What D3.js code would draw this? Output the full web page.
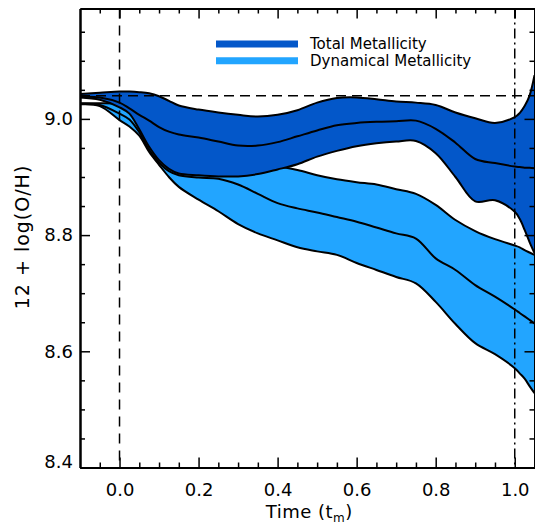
<!DOCTYPE html>
<html>
<head>
<meta charset="utf-8">
<script src="https://cdn.jsdelivr.net/npm/d3@7"></script>
<style>
  html, body { margin: 0; padding: 0; background: #fff; }
  svg { display: block; }
  text { font-family: "DejaVu Sans", sans-serif; fill: #000; }
</style>
</head>
<body>
<svg id="chart" width="535" height="527"></svg>
<script>
// ---- data ----
const time = [-0.1, -0.05, 0.0, 0.025, 0.05, 0.075, 0.1, 0.125, 0.15, 0.2, 0.25, 0.3, 0.35, 0.4, 0.45,
              0.5, 0.55, 0.6, 0.65, 0.7, 0.75, 0.8, 0.85, 0.9, 0.95, 1.0, 1.0125, 1.025, 1.0375, 1.05];

const totalUpper = [9.043, 9.045, 9.047, 9.047, 9.046, 9.044, 9.039, 9.031, 9.023, 9.016, 9.011, 9.007, 9.004, 9.007, 9.015,
                    9.028, 9.036, 9.037, 9.034, 9.030, 9.028, 9.024, 9.011, 9.001, 8.993, 9.003, 9.010, 9.022, 9.040, 9.075];
const totalMid   = [9.038, 9.037, 9.028, 9.018, 9.007, 8.997, 8.986, 8.978, 8.973, 8.968, 8.961, 8.954, 8.954, 8.960, 8.970,
                    8.980, 8.989, 8.993, 8.995, 8.996, 8.997, 8.983, 8.959, 8.931, 8.924, 8.918, 8.917, 8.916, 8.916, 8.915];
const totalLower = [9.037, 9.033, 9.020, 9.009, 8.982, 8.952, 8.929, 8.914, 8.906, 8.903, 8.901, 8.901, 8.905, 8.913, 8.922,
                    8.935, 8.945, 8.953, 8.958, 8.961, 8.962, 8.941, 8.900, 8.858, 8.860, 8.840, 8.828, 8.809, 8.788, 8.769];

const dynUpper   = [9.027, 9.027, 9.026, 9.022, 9.007, 8.985, 8.964, 8.947, 8.936, 8.929, 8.924, 8.921, 8.919, 8.918, 8.912,
                    8.903, 8.896, 8.891, 8.887, 8.879, 8.871, 8.852, 8.826, 8.807, 8.793, 8.782, 8.779, 8.774, 8.770, 8.766];
const dynMid     = [9.026, 9.024, 9.009, 8.999, 8.977, 8.947, 8.925, 8.910, 8.903, 8.899, 8.897, 8.887, 8.871, 8.855, 8.846,
                    8.839, 8.831, 8.823, 8.813, 8.803, 8.794, 8.760, 8.740, 8.714, 8.694, 8.672, 8.666, 8.660, 8.654, 8.648];
const dynLower   = [9.025, 9.022, 8.998, 8.987, 8.971, 8.943, 8.921, 8.900, 8.883, 8.861, 8.841, 8.819, 8.803, 8.791, 8.779,
                    8.772, 8.766, 8.752, 8.740, 8.728, 8.717, 8.685, 8.647, 8.614, 8.595, 8.571, 8.562, 8.553, 8.540, 8.528];

const xMajorTicks = [0.0, 0.2, 0.4, 0.6, 0.8, 1.0];
const xMinorTicks = [-0.05, 0.05, 0.1, 0.15, 0.25, 0.3, 0.35, 0.45, 0.5, 0.55, 0.65, 0.7, 0.75, 0.85, 0.9, 0.95, 1.05];
const yMajorTicks = [8.4, 8.6, 8.8, 9.0];
const yMinorTicks = [8.45, 8.5, 8.55, 8.65, 8.7, 8.75, 8.85, 8.9, 8.95, 9.05, 9.1, 9.15];

const refTime = [0.0];          // dashed vertical
const refTimeEnd = [1.0];       // dash-dot vertical
const refLevel = [9.04];        // dashed horizontal

const legendLabels = ["Total Metallicity", "Dynamical Metallicity"];
const colTotal = "#0357c9";
const colDyn = "#22a5ff";
const legendColors = [colTotal, colDyn];

// ---- layout ----
const svg = d3.select("#chart");
const L = 80, R = 534.5, T = 8.5, B = 467.5;

const x = d3.scaleLinear().domain([-0.1, 1.05]).range([L, R]);
const y = d3.scaleLinear().domain([8.4, 9.19]).range([B, T]);

svg.append("defs").append("clipPath").attr("id", "clip")
  .append("rect").attr("x", L).attr("y", T).attr("width", R - L).attr("height", B - T);

const plot = svg.append("g").attr("clip-path", "url(#clip)");

const curve = d3.curveCatmullRom.alpha(0.5);
const area = (up, lo) => d3.area().curve(curve)
  .x((d, i) => x(time[i])).y0((d, i) => y(lo[i])).y1((d, i) => y(up[i]))(time);
const line = arr => d3.line().curve(curve).x((d, i) => x(time[i])).y(d => y(d))(arr);

// dynamical band (beneath)
plot.append("path").attr("d", area(dynUpper, dynLower)).attr("fill", colDyn);
[dynUpper, dynMid, dynLower].forEach(a =>
  plot.append("path").attr("d", line(a)).attr("fill", "none").attr("stroke", "#000").attr("stroke-width", 2));

// total band (on top)
plot.append("path").attr("d", area(totalUpper, totalLower)).attr("fill", colTotal);
[totalUpper, totalMid, totalLower].forEach(a =>
  plot.append("path").attr("d", line(a)).attr("fill", "none").attr("stroke", "#000").attr("stroke-width", 2));

// reference lines
refTime.forEach(t => plot.append("line").attr("x1", x(t)).attr("x2", x(t)).attr("y1", T).attr("y2", B)
  .attr("stroke", "#000").attr("stroke-width", 1.5).attr("stroke-dasharray", "10,7"));
refLevel.forEach(v => plot.append("line").attr("x1", L).attr("x2", R).attr("y1", y(v)).attr("y2", y(v))
  .attr("stroke", "#000").attr("stroke-width", 1.5).attr("stroke-dasharray", "10,6"));
refTimeEnd.forEach(t => plot.append("line").attr("x1", x(t)).attr("x2", x(t)).attr("y1", T).attr("y2", B)
  .attr("stroke", "#000").attr("stroke-width", 1.5).attr("stroke-dasharray", "10,4,2,4"));

// ---- axes ----
const fmt = d3.format(".1f");
function styleAxis(g) {
  g.selectAll("path.domain").attr("stroke", "#000").attr("stroke-width", 2);
  g.selectAll(".tick line").attr("stroke", "#000").attr("stroke-width", 1.5);
  g.selectAll("text").attr("font-family", "DejaVu Sans, sans-serif").attr("font-size", 18).attr("fill", "#000");
}
// bottom
svg.append("g").attr("transform", `translate(0,${B})`)
  .call(d3.axisBottom(x).tickValues(xMinorTicks).tickSize(-5).tickSizeOuter(0).tickFormat(""))
  .call(styleAxis);
svg.append("g").attr("transform", `translate(0,${B})`)
  .call(d3.axisBottom(x).tickValues(xMajorTicks).tickSize(-10).tickSizeOuter(0).tickPadding(16).tickFormat(fmt))
  .call(styleAxis);
// top
svg.append("g").attr("transform", `translate(0,${T})`)
  .call(d3.axisTop(x).tickValues(xMinorTicks).tickSize(-5).tickSizeOuter(0).tickFormat(""))
  .call(styleAxis);
svg.append("g").attr("transform", `translate(0,${T})`)
  .call(d3.axisTop(x).tickValues(xMajorTicks).tickSize(-10).tickSizeOuter(0).tickFormat(""))
  .call(styleAxis);
// left
svg.append("g").attr("transform", `translate(${L},0)`)
  .call(d3.axisLeft(y).tickValues(yMinorTicks).tickSize(-5).tickSizeOuter(0).tickFormat(""))
  .call(styleAxis);
const leftMajor = svg.append("g").attr("transform", `translate(${L},0)`)
  .call(d3.axisLeft(y).tickValues(yMajorTicks).tickSize(-10).tickSizeOuter(0).tickPadding(7).tickFormat(fmt))
  .call(styleAxis);
// keep the lowest label inside the frame like the original
leftMajor.selectAll(".tick text").attr("dy", d => d === 8.4 ? "0.0em" : "0.32em");
// right
svg.append("g").attr("transform", `translate(${R},0)`)
  .call(d3.axisRight(y).tickValues(yMinorTicks).tickSize(-5).tickSizeOuter(0).tickFormat(""))
  .call(styleAxis);
svg.append("g").attr("transform", `translate(${R},0)`)
  .call(d3.axisRight(y).tickValues(yMajorTicks).tickSize(-10).tickSizeOuter(0).tickFormat(""))
  .call(styleAxis);

// axis titles
const xt = svg.append("text").attr("x", (L + R) / 2 + 2).attr("y", 518)
  .attr("text-anchor", "middle").attr("font-size", 18).attr("letter-spacing", 0.5);
xt.append("tspan").text("Time (t");
xt.append("tspan").attr("font-size", 12).attr("dy", 4).text("m");
xt.append("tspan").attr("dy", -4).text(")");

svg.append("text").attr("transform", "translate(29,237) rotate(-90)")
  .attr("text-anchor", "middle").attr("font-size", 19).attr("letter-spacing", 1).text("12 + log(O/H)");

// legend
const lg = svg.append("g");
legendLabels.forEach((lab, i) => {
  const yy = 44 + i * 16.7;
  lg.append("line").attr("x1", 216).attr("x2", 298).attr("y1", yy).attr("y2", yy)
    .attr("stroke", legendColors[i]).attr("stroke-width", 7);
  lg.append("text").attr("x", 310).attr("y", yy + 5).attr("font-size", 15).text(lab);
});
</script>
</body>
</html>
